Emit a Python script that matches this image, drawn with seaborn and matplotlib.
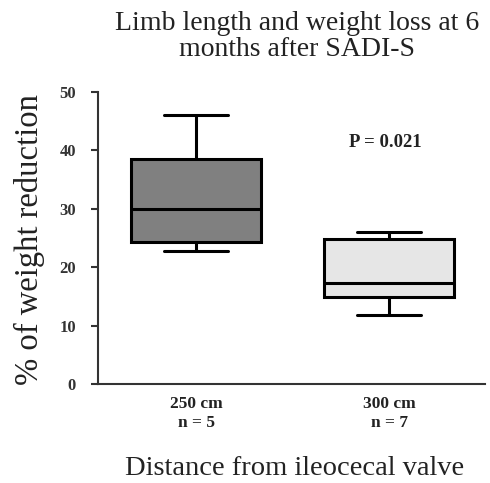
import matplotlib
matplotlib.use("Agg")
import matplotlib.pyplot as plt
import seaborn as sns
import pandas as pd

categories = ["250 cm\nn = 5", "300 cm\nn = 7"]
values_250 = [22.8, 24.3, 29.9, 38.5, 46.1]
values_300 = [11.8, 14.5, 15.4, 17.3, 24.2, 25.4, 26.0]
box_colors = ["#808080", "#e6e6e6"]
y_ticks = [0, 10, 20, 30, 40, 50]

df = pd.DataFrame({
    "group": [categories[0]] * len(values_250) + [categories[1]] * len(values_300),
    "value": values_250 + values_300,
})

sns.set_theme(style="ticks")
plt.rcParams["font.family"] = ["Liberation Serif", "DejaVu Serif"]

fig = plt.figure(figsize=(4.9, 4.83), dpi=100)
ax = fig.add_axes([0.2, 0.205, 0.79, 0.6045])

lw = 2.2
sns.boxplot(data=df, x="group", y="value", hue="group", palette=box_colors,
            order=categories, hue_order=categories, legend=False,
            width=0.67, whis=3, linewidth=lw, linecolor="black",
            showfliers=False, ax=ax, saturation=1)

ax.set_xlim(-0.508, 1.497)
ax.set_ylim(0, 50)
ax.set_yticks(y_ticks)
ax.set_yticklabels([str(t) for t in y_ticks], fontweight="bold", fontsize=12, color="#333333")
ax.tick_params(axis="y", length=5, width=1.5, color="#333333", pad=11)
ax.tick_params(axis="x", length=0, pad=9)
for lab in ax.get_xticklabels():
    lab.set_fontweight("bold")
    lab.set_fontsize(12.5)
    lab.set_color("#222222")
    lab.set_linespacing(1.25)

for s in ["top", "right"]:
    ax.spines[s].set_visible(False)
for s in ["left", "bottom"]:
    ax.spines[s].set_linewidth(1.5)
    ax.spines[s].set_color("#333333")

ax.set_xlabel("Distance from ileocecal valve", fontsize=20.5, color="#222222")
ax.xaxis.set_label_coords(0.509, -0.247)
ax.set_ylabel("% of weight reduction", fontsize=23.5, color="#222222")
ax.yaxis.set_label_coords(-0.138, 0.493)
fig.text(0.606, 0.978, "Limb length and weight loss at 6\nmonths after SADI-S",
         ha="center", va="top", fontsize=20, color="#222222", linespacing=1.08)
ax.text(0.98, 41.3, "P = 0.021", ha="center", va="center", fontsize=13.5,
        fontweight="bold", color="#222222")

fig.savefig("out.png", dpi=100)
